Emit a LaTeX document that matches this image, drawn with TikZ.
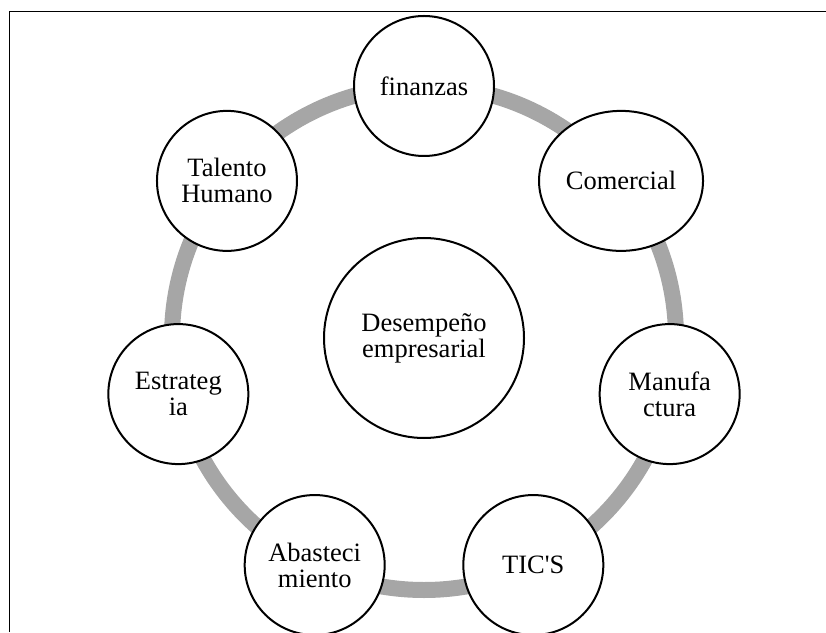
\documentclass[tikz,border=0pt]{standalone}
\usepackage{fontspec}
\setmainfont{Liberation Serif}
\newfontfamily\plainquote{Liberation Serif}[Ligatures=ResetAll]
\usetikzlibrary{shapes.geometric}
\definecolor{RingGray}{HTML}{A6A6A6}

\begin{document}
\begin{tikzpicture}[x=1pt, y=1pt,
  area/.style={ellipse, draw=black, line width=2pt, fill=white,
    minimum width=140pt, minimum height=140pt, inner sep=0pt,
    align=center, font=\fontsize{26.5}{26}\selectfont}]
  \useasboundingbox (0,0) rectangle (826,632);
  % outer frame
  \draw[line width=1.5pt] (9.5,0) -- (9.5,620.5) -- (826,620.5);
  % ring
  \coordinate (O) at (424,294);
  \draw[RingGray, line width=16pt] (O) circle[radius=252];
  % centre
  \node[area, minimum width=200pt, minimum height=200pt] (desempeno) at (O)
    {Desempeño\\empresarial};
  % areas round the ring
  \node[area] (finanzas) at ([shift={(90:252)}]O) {finanzas};
  \node[area, minimum width=164pt] (comercial) at ([shift={(38.57:252)}]O) {Comercial};
  \node[area] (manufactura) at ([shift={(-12.86:252)}]O) {Manufa\\ctura};
  \node[area] (tics) at ([shift={(-64.29:252)}]O) {TIC{\plainquote '}S};
  \node[area] (abastecimiento) at ([shift={(-115.71:252)}]O) {Abasteci\\miento};
  \node[area] (estrategia) at ([shift={(-167.14:252)}]O) {Estrateg\\ia};
  \node[area] (talento) at ([shift={(141.43:252)}]O) {Talento\\Humano};
\end{tikzpicture}
\end{document}
